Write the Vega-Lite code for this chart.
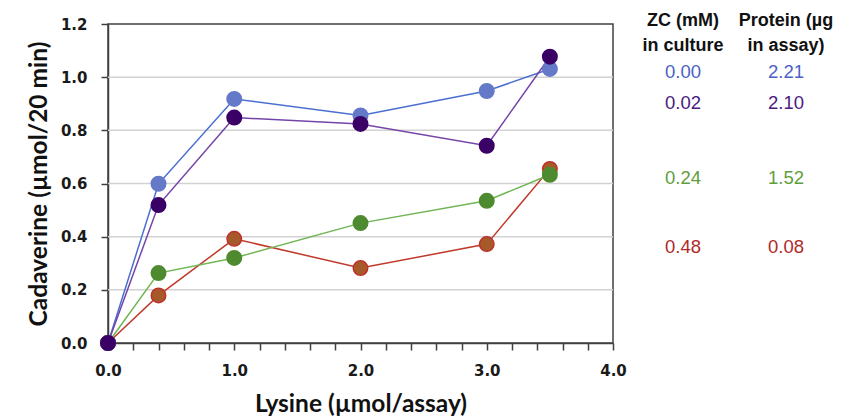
{
  "$schema": "https://vega.github.io/schema/vega-lite/v6.json",
  "width": 505,
  "height": 319,
  "autosize": {"type": "none"},
  "padding": {"left": 108, "top": 24, "right": 228, "bottom": 77},
  "background": "white",
  "config": {
    "view": {"stroke": "#404040", "strokeWidth": 1.5},
    "axis": {
      "domainColor": "#404040", "domainWidth": 1.5,
      "tickColor": "#404040", "tickWidth": 1.5, "tickSize": 7,
      "grid": false,
      "labelFont": "DejaVu Sans", "labelFontWeight": "bold", "labelFontSize": 15, "labelColor": "#1a1a1a",
      "titleFont": "Lato", "titleFontWeight": "bold", "titleFontSize": 24.5, "titleColor": "#111111",
      "labelOverlap": false, "labelBound": false, "labelFlush": false
    },
    "axisX": {
      "values": [0,0.2,0.4,0.6,0.8,1,1.2,1.4,1.6,1.8,2,2.2,2.4,2.6,2.8,3,3.2,3.4,3.6,3.8,4],
      "labelExpr": "abs(datum.value - round(datum.value)) < 0.001 ? format(datum.value, '.1f') : ''",
      "labelPadding": 13, "titlePadding": 14
    },
    "axisY": {
      "values": [0,0.05,0.1,0.15,0.2,0.25,0.3,0.35,0.4,0.45,0.5,0.55,0.6,0.65,0.7,0.75,0.8,0.85,0.9,0.95,1,1.05,1.1,1.15,1.2],
      "labelExpr": "abs(datum.value*5 - round(datum.value*5)) < 0.001 ? format(datum.value, '.1f') : ''",
      "labelPadding": 14, "titlePadding": 9
    }
  },
  "datasets": {
    "pts": [
      {"series": "0.48", "lysine": 0, "cad": 0},
      {"series": "0.48", "lysine": 0.4, "cad": 0.179},
      {"series": "0.48", "lysine": 1.0, "cad": 0.392},
      {"series": "0.48", "lysine": 2.0, "cad": 0.282},
      {"series": "0.48", "lysine": 3.0, "cad": 0.372},
      {"series": "0.48", "lysine": 3.5, "cad": 0.655},
      {"series": "0.24", "lysine": 0, "cad": 0},
      {"series": "0.24", "lysine": 0.4, "cad": 0.263},
      {"series": "0.24", "lysine": 1.0, "cad": 0.32},
      {"series": "0.24", "lysine": 2.0, "cad": 0.451},
      {"series": "0.24", "lysine": 3.0, "cad": 0.535},
      {"series": "0.24", "lysine": 3.5, "cad": 0.633},
      {"series": "0.00", "lysine": 0, "cad": 0},
      {"series": "0.00", "lysine": 0.4, "cad": 0.599},
      {"series": "0.00", "lysine": 1.0, "cad": 0.918},
      {"series": "0.00", "lysine": 2.0, "cad": 0.856},
      {"series": "0.00", "lysine": 3.0, "cad": 0.948},
      {"series": "0.00", "lysine": 3.5, "cad": 1.031},
      {"series": "0.02", "lysine": 0, "cad": 0},
      {"series": "0.02", "lysine": 0.4, "cad": 0.519},
      {"series": "0.02", "lysine": 1.0, "cad": 0.848},
      {"series": "0.02", "lysine": 2.0, "cad": 0.824},
      {"series": "0.02", "lysine": 3.0, "cad": 0.742},
      {"series": "0.02", "lysine": 3.5, "cad": 1.077}
    ],
    "grid": [{"g": 0.2}, {"g": 0.4}, {"g": 0.6}, {"g": 0.8}, {"g": 1.0}],
    "headers": [
      {"col": 4.555, "row": 1.21, "label": "ZC (mM)"},
      {"col": 4.555, "row": 1.118, "label": "in culture"},
      {"col": 5.37, "row": 1.21, "label": "Protein (µg"},
      {"col": 5.37, "row": 1.118, "label": "in assay)"}
    ],
    "values": [
      {"col": 4.555, "row": 1.021, "label": "0.00", "series": "0.00"},
      {"col": 5.37, "row": 1.021, "label": "2.21", "series": "0.00"},
      {"col": 4.555, "row": 0.902, "label": "0.02", "series": "0.02"},
      {"col": 5.37, "row": 0.902, "label": "2.10", "series": "0.02"},
      {"col": 4.555, "row": 0.62, "label": "0.24", "series": "0.24"},
      {"col": 5.37, "row": 0.62, "label": "1.52", "series": "0.24"},
      {"col": 4.555, "row": 0.361, "label": "0.48", "series": "0.48"},
      {"col": 5.37, "row": 0.361, "label": "0.08", "series": "0.48"}
    ]
  },
  "layer": [
    {
      "data": {"name": "grid"},
      "mark": {"type": "rule", "color": "#d2d2d2", "strokeWidth": 1.5},
      "encoding": {
        "y": {"field": "g", "type": "quantitative", "scale": {"domain": [0, 1.2], "nice": false}, "title": "Cadaverine (µmol/20 min)"}
      }
    },
    {
      "data": {"name": "pts"},
      "mark": {"type": "line", "strokeWidth": 1.5},
      "encoding": {
        "x": {"field": "lysine", "type": "quantitative", "scale": {"domain": [0, 4], "nice": false}, "title": "Lysine (µmol/assay)"},
        "y": {"field": "cad", "type": "quantitative", "title": "Cadaverine (µmol/20 min)"},
        "color": {"field": "series", "type": "nominal",
          "scale": {"domain": ["0.48", "0.24", "0.00", "0.02"], "range": ["#c0392b", "#6fb552", "#4a6fd1", "#7444a8"]},
          "legend": null},
        "order": {"field": "lysine", "type": "quantitative"}
      }
    },
    {
      "data": {"name": "pts"},
      "mark": {"type": "point", "filled": true, "size": 210, "opacity": 1, "strokeWidth": 1.5},
      "encoding": {
        "x": {"field": "lysine", "type": "quantitative", "title": "Lysine (µmol/assay)"},
        "y": {"field": "cad", "type": "quantitative", "title": "Cadaverine (µmol/20 min)"},
        "fill": {"field": "series", "type": "nominal",
          "scale": {"domain": ["0.48", "0.24", "0.00", "0.02"], "range": ["#a65a2a", "#4e8a2f", "#6579c9", "#3b0066"]},
          "legend": null},
        "stroke": {"field": "series", "type": "nominal",
          "scale": {"domain": ["0.48", "0.24", "0.00", "0.02"], "range": ["#c0302a", "#4e8a2f", "#6579c9", "#3b0066"]},
          "legend": null}
      }
    },
    {
      "data": {"name": "headers"},
      "mark": {"type": "text", "font": "Liberation Sans", "fontWeight": "bold", "fontSize": 18, "align": "center", "baseline": "middle", "color": "#111111"},
      "encoding": {
        "x": {"field": "col", "type": "quantitative", "title": "Lysine (µmol/assay)"},
        "y": {"field": "row", "type": "quantitative", "title": "Cadaverine (µmol/20 min)"},
        "text": {"field": "label"}
      }
    },
    {
      "data": {"name": "values"},
      "mark": {"type": "text", "font": "Liberation Sans", "fontSize": 18.5, "align": "center", "baseline": "middle"},
      "encoding": {
        "x": {"field": "col", "type": "quantitative", "title": "Lysine (µmol/assay)"},
        "y": {"field": "row", "type": "quantitative", "title": "Cadaverine (µmol/20 min)"},
        "text": {"field": "label"},
        "color": {"field": "series", "type": "nominal",
          "scale": {"domain": ["0.48", "0.24", "0.00", "0.02"], "range": ["#b02a2a", "#5f9e3c", "#4a62c4", "#4a1a80"]},
          "legend": null}
      }
    }
  ],
  "resolve": {"scale": {"color": "independent"}}
}
